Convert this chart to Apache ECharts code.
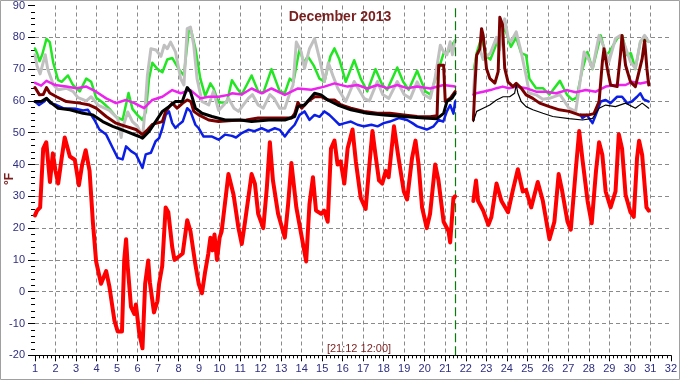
<!DOCTYPE html>
<html>
<head>
<meta charset="utf-8">
<script src="https://cdn.jsdelivr.net/npm/echarts@6/dist/echarts.min.js"></script>
<style>
html,body{margin:0;padding:0;background:#fff;}
#chart{width:680px;height:380px;}
</style>
</head>
<body>
<div id="chart"></div>
<script>
// ---- data (day of month, °F); null = gap in recording ----
const titleText = 'December 2013';
const cursorText = '[21:12 12:00]';
const unitText = '°F';
const cursorDay = 21.5;

const redDays = [1.0,1.1,1.25,1.4,1.55,1.73,1.87,2.0,2.13,2.3,2.45,2.7,2.94,3.14,3.3,3.47,3.66,3.82,3.98,4.22,4.47,4.63,4.87,5.03,5.24,5.35,5.44,5.52,5.68,5.84,5.92,6.08,6.24,6.37,6.52,6.6,6.8,6.97,7.05,7.2,7.37,7.5,7.69,7.8,8.0,8.2,8.42,8.58,8.82,8.98,9.14,9.3,9.45,9.55,9.65,9.75,9.87,10.0,10.1,10.43,10.68,10.92,11.08,11.24,11.56,11.72,11.88,12.13,12.3,12.45,12.6,12.85,13.18,13.34,13.5,13.74,13.98,14.22,14.38,14.55,14.7,14.95,15.1,15.27,15.43,15.6,15.75,15.9,16.08,16.24,16.48,16.64,16.88,17.12,17.29,17.45,17.6,17.77,17.93,18.1,18.24,18.5,18.7,18.98,19.14,19.38,19.55,19.7,19.87,20.1,20.26,20.51,20.67,20.92,21.16,21.24,21.4,21.48,21.9,22.37,22.5,22.6,22.85,23.1,23.25,23.5,23.74,24.06,24.3,24.54,24.78,24.94,25.19,25.51,25.76,26.08,26.32,26.53,26.69,26.96,27.12,27.36,27.53,27.7,27.94,28.14,28.35,28.5,28.66,28.82,29.06,29.3,29.46,29.62,29.79,30.03,30.19,30.35,30.45,30.6,30.81,30.92];
const redTemps = [24,25.5,26.5,45,47,34.5,43.5,38,34,42,48.5,42.5,41.5,33.5,40,44.5,38,22,9.5,2.5,6.5,1.5,-9,-12.5,-12.5,10,16.5,8,-4.8,-7,-4,-13,-17.8,2.5,9.8,3,-6.5,-3,2.5,8,26.5,25,14,10,11,12,22.5,19,8.5,2.5,-0.5,6.5,12,17,13,18,10,17,19,37,30.5,20,15,22,37,34,24.5,20,32.5,47,35,24.5,17,27.5,40.5,26.5,18,9.5,27.5,36,25.5,24.5,25.5,22,45,47.5,40,41,34,45,51,41,29.5,26,39,50.5,43,35,34,38,36,52,43,31.5,29,42,47.5,40,26.5,20,24.5,40,35,22,19,15.5,29.5,30,null,28.5,35,28.5,25.5,21,23.5,34,28.5,25,32,38.5,31.5,32,26.5,34.5,28.5,16.5,22,37,32,22,19.5,38,50.5,41,28.5,21.5,38,47,43,31.5,26.5,31.5,49.5,45,30.5,25,23.5,42,47.5,43,26.5,25.5];

const greenDays = [1.0,1.1,1.22,1.35,1.56,1.72,1.89,2.13,2.3,2.61,2.85,3.18,3.5,3.74,3.98,4.3,4.63,4.95,5.27,5.56,5.75,6.0,6.24,6.4,6.56,6.72,6.97,7.21,7.45,7.69,8.01,8.26,8.5,8.62,8.82,9.06,9.3,9.55,9.7,9.95,10.35,10.6,10.85,11.08,11.56,11.88,12.13,12.53,12.93,13.18,13.42,13.6,13.9,14.1,14.3,14.6,14.87,15.11,15.4,15.6,15.84,16.15,16.56,16.88,17.2,17.6,17.93,18.17,18.66,18.95,19.22,19.63,20.03,20.27,20.68,20.92,21.16,21.32,21.48,21.9,22.4,22.53,22.77,23.0,23.2,23.5,23.7,23.9,24.2,24.46,24.7,24.94,25.1,25.43,25.76,26.08,26.59,26.93,27.2,27.4,27.69,27.93,28.18,28.58,28.82,29.0,29.38,29.62,29.87,30.05,30.27,30.51,30.67,30.92];
const greenTemps = [76.5,75,72.5,74.5,79.5,78.5,72,66.5,66,68,65,63,67,66,61,59.5,57.5,55,54,62.5,57.5,55.5,54,56.5,67,72,70,69,73,73.5,70,68,82.5,82,76.5,67,61.5,65.5,64,59.5,59.5,66.5,64,62,68,63,62.5,70,63,62.5,67,66,76.5,72,74,71,67,66,74,76.5,73,66,72.8,67,63,70,65,63.5,70.5,66,63.5,69.5,63,62,70,75,75.5,77.5,79,null,70,75,80,74,73,78,80,83,77,80,75,74.4,67,64,64,62,66.3,62,60.3,61,70,75.4,70,80.6,74.4,75.4,79.6,80.6,74.4,75,70,78.6,79.6,78.6];

const grayDays = [1.0,1.1,1.25,1.5,1.62,1.9,2.13,2.53,2.85,3.1,3.5,3.74,4.07,4.63,5.03,5.2,5.27,5.52,5.75,6.0,6.24,6.35,6.48,6.65,6.9,7.14,7.3,7.45,7.61,7.85,8.1,8.26,8.42,8.58,8.74,8.9,9.14,9.47,9.7,9.95,10.2,10.43,10.7,10.92,11.4,11.6,11.88,12.13,12.45,12.65,12.93,13.18,13.42,13.58,13.74,13.98,14.14,14.38,14.63,14.87,15.11,15.3,15.52,15.76,16.15,16.56,17.04,17.3,17.69,17.95,18.25,18.66,19.0,19.3,19.63,19.95,20.27,20.5,20.76,20.92,21.08,21.24,21.35,21.48,21.9,22.37,22.45,22.53,22.7,22.85,23.0,23.2,23.5,23.65,23.9,24.06,24.2,24.46,24.7,24.94,25.1,25.43,25.76,26.08,26.59,26.8,27.03,27.36,27.55,27.77,28.0,28.18,28.5,28.7,28.98,29.3,29.55,29.75,30.03,30.27,30.51,30.72,30.92];
const grayTemps = [74.5,71,68.5,74.5,70,65,63.5,64,63,61,60,61.3,58.7,57,54.5,48.5,51.5,56.5,53.5,52,48.5,56,68,76.4,76,74,77.5,76.4,78.5,75.4,67,65,82.7,83.2,77.5,67,59.8,58.7,63,57,58.7,60.8,57.7,56.7,60.8,62,58.7,57.7,62,60.8,57.7,57.7,62.4,65,78.5,75.4,70.2,76.4,79.6,73.3,66.1,72,68,64,59.8,66.1,60.8,60,66.1,62,60.8,66.1,62,60.8,66,62,60.8,67,77.5,75.4,74.5,78.6,74.5,79,null,62,70,74.4,76,73,74,75,80,76,85.8,80,78.6,81.7,75.4,68,62.5,61.9,60.5,60.8,62,60,57.7,56.7,65,75.4,73,70.2,80.6,77.5,72.3,79.6,80.6,77.5,72.3,70.2,78.6,80.6,78.6];

const magentaDays = [1.0,1.3,1.56,1.97,2.53,3.02,3.5,3.98,4.47,4.95,5.43,5.84,6.32,6.72,7.21,7.69,8.1,8.58,9.06,9.47,9.95,10.43,10.6,11.08,11.56,12.05,12.53,13.18,13.82,14.47,15.11,15.6,16.24,16.72,17.2,17.69,18.17,18.66,19.14,19.63,20.27,20.92,21.48,21.9,22.37,22.5,22.85,23.2,23.5,23.8,24.1,24.46,24.94,25.43,25.92,26.4,26.93,27.36,27.85,28.34,28.82,29.3,29.79,30.1,30.51,30.92];
const magentaTemps = [65.7,64.8,66.3,65,64.5,64,64.5,62.9,60.8,59.3,60.3,59.3,57.7,60.3,61.3,63.4,62.4,63.4,60.8,61.3,61.3,61.9,62.4,62,63.9,62.4,63.9,61.9,63.9,63.5,64.5,65.5,64.5,65,63.9,65,64,65,64,64.5,63.9,65,64.5,null,62,62.4,62.9,63.4,64,64.5,64,64.5,64,62.9,62.9,62.4,63.4,62.7,63.4,62.9,64.5,65,65,66,65.5,66];

const blueDays = [1.0,1.2,1.45,1.56,1.75,2.05,2.37,3.02,3.34,3.58,3.9,4.14,4.47,4.79,5.03,5.27,5.44,5.68,5.92,6.24,6.4,6.65,6.88,7.05,7.21,7.37,7.53,7.69,7.85,8.0,8.2,8.42,8.58,8.82,8.98,9.22,9.63,9.95,10.27,10.6,10.8,11.08,11.4,11.7,12.05,12.37,12.69,12.93,13.18,13.42,13.66,13.9,14.14,14.38,14.63,14.87,15.11,15.35,15.6,15.84,16.1,16.4,16.72,17.04,17.4,17.7,18.0,18.3,18.74,19.14,19.4,19.63,20.1,20.43,20.68,20.9,21.08,21.24,21.4,21.48,21.9,27.6,27.69,27.9,28.18,28.34,28.58,28.82,29.06,29.38,29.62,29.87,30.1,30.35,30.51,30.67,30.92];
const blueTemps = [59.8,58.7,59.8,60.8,59.3,58.7,57.7,57.5,57,57.2,54,51,49.4,45.2,42.1,41.6,45.7,44.2,43.2,38.9,43.2,43.7,47.3,48.3,51.4,55.6,56.7,53,51.5,52.5,53.5,57.7,56.7,52.5,51.4,48.8,48.8,47.8,49.4,49,48.5,49.9,50.9,50.5,51.4,50.5,51.4,50.9,48.8,50.9,52.5,55.6,56.7,54,55.6,55,56.7,55.6,54,52.5,53,53.5,52.5,52,52.5,52,53,53.5,54.6,54,53,52,51,52,54,53.5,56.7,58.7,56,59.8,null,55.6,54.6,55.6,53,55.6,59.8,60.3,59.3,61.3,61.3,59.3,59.8,61.3,62.4,60.5,59.8];

const maroonDays = [1.0,1.22,1.4,1.56,1.72,2.05,2.53,3.18,3.66,3.98,4.47,4.95,5.43,5.92,6.24,6.5,6.72,7.21,7.37,7.69,7.93,8.2,8.42,8.6,8.74,8.98,9.47,9.95,10.6,11.3,11.88,12.85,13.5,13.66,13.74,13.82,14.0,14.3,14.63,14.95,15.27,15.6,15.92,16.4,17.04,17.69,18.3,18.98,19.63,20.27,20.6,20.68,20.92,21.0,21.24,21.48,21.9,22.37,22.45,22.53,22.69,22.77,22.85,23.01,23.17,23.42,23.58,23.66,23.79,23.9,24.06,24.3,24.46,24.7,24.94,25.27,25.6,26.08,26.56,27.04,27.53,28.0,28.25,28.5,28.66,28.74,28.9,29.06,29.38,29.54,29.62,29.79,30.03,30.27,30.6,30.72,30.83,30.92];
const maroonTemps = [64.2,61.9,62,64.2,62.5,61.3,59.8,59.3,58.7,57.7,55.1,53,52,51,49.4,51,52.6,53.5,56.7,59.3,57.7,59.3,60.3,59.8,56.7,55.6,54,53.5,53.8,54,54.6,54.6,54.6,56,57.7,59.5,57.7,59.8,61.3,61.3,60.3,60.3,58.7,57.7,56.7,56.1,56.1,55.6,55.1,55,55.3,71.2,71.2,59.8,60.8,62.9,null,54,65,74.4,76.4,82.7,80.6,70.2,67.1,65.6,69.2,86.3,84,70.2,66,64.5,65.5,64,61.9,60.8,59.3,58.2,57.2,56.7,55.6,55.6,56,59.8,72.3,76.4,70.2,65,64.5,74.4,80.6,71.2,66,64.5,73.3,79,70.2,65];

const blackDaysA = [1.0,1.3,1.56,1.8,2.13,2.7,3.34,3.82,4.3,4.79,5.44,6.08,6.24,6.56,6.88,7.21,7.53,7.85,8.18,8.42,8.58,8.82,9.14,9.63,10.27,11.0,11.56,12.4,13.18,13.66,13.82,14.14,14.63,14.95,15.27,15.76,16.4,17.2,18.01,18.98,19.95,20.6,20.92,21.08,21.32,21.48];
const blackTempsA = [59.8,59.8,60.8,59.3,57.7,57.2,56.1,55.6,53.5,52,50.4,48.8,48.3,50.4,53.5,56.7,58.2,59.8,59.8,64.2,62.9,57.7,56.1,55.1,54,54,53.5,54,54,55.1,58.2,58.7,62.4,61.9,60.3,58.7,57.2,56.1,55.6,55.1,54.6,54.4,56.1,59.8,60.8,62.4];
const blackDaysB = [22.37,22.53,22.85,23.17,23.5,23.82,24.14,24.38,24.46,24.54,24.7,24.94,25.27,25.76,26.24,27.04,27.69,28.18,28.5,28.82,29.3,29.79,30.27,30.6,30.92];
const blackTempsB = [53.5,56.7,57.7,58.7,60.3,61.3,61.3,62.4,65,62.5,59.8,58.2,57.2,56.1,55.1,54.4,54,54.5,57.7,58.7,58.2,59.3,57.7,59.3,57.7];

const xTicks = {min: 1, max: 32, step: 1};
const yTicks = {min: -20, max: 90, step: 10};

function pairs(days, temps) {
  return days.map((d, i) => [d, temps[i] === null ? '-' : temps[i]]);
}

const chart = echarts.init(document.getElementById('chart'), null, {renderer: 'canvas'});
const font = 'Arial, "Liberation Sans", sans-serif';
const labelColor = '#2e2e80';
const gridLine = {show: true, showMinLine: false, showMaxLine: false, lineStyle: {color: '#8a8a8a', type: [4, 3], width: 1}};

function lineSeries(name, days, temps, color, width, z, extra) {
  return Object.assign({
    name: name, type: 'line', data: pairs(days, temps),
    showSymbol: false, symbol: 'none', connectNulls: false, z: z,
    lineStyle: {color: color, width: width, join: 'round', cap: 'round'},
    itemStyle: {color: color}, animation: false, silent: true
  }, extra || {});
}

chart.setOption({
  animation: false,
  backgroundColor: '#ffffff',
  title: {
    text: titleText, left: 'center', top: 10, padding: 0,
    textStyle: {color: '#7a1e1e', fontSize: 14, fontWeight: 'bold', fontFamily: font}
  },
  grid: {left: 35, right: 4.3, top: 3.3, bottom: 24.7, containLabel: false},
  xAxis: {
    type: 'value', min: xTicks.min, max: xTicks.max, interval: xTicks.step,
    axisLine: {show: true, onZero: false, lineStyle: {color: '#000', width: 1}},
    axisTick: {show: true, length: 6, lineStyle: {color: '#000'}},
    minorTick: {show: true, splitNumber: 5, length: 3, lineStyle: {color: '#000'}},
    axisLabel: {color: labelColor, fontSize: 11, fontFamily: font, margin: 8},
    splitLine: gridLine
  },
  yAxis: {
    type: 'value', min: yTicks.min, max: yTicks.max, interval: yTicks.step,
    axisLine: {show: false},
    axisTick: {show: true, length: 7, lineStyle: {color: '#000'}},
    minorTick: {show: true, splitNumber: 5, length: 4, lineStyle: {color: '#000'}},
    axisLabel: {color: labelColor, fontSize: 11, fontFamily: font, margin: 10},
    splitLine: gridLine
  },
  graphic: [
    {type: 'rect', shape: {x: 0.5, y: 0.5, width: 679, height: 379}, style: {fill: null, stroke: '#a0a0a0', lineWidth: 1}, silent: true, z: 100},
    {type: 'text', x: 10, y: 179, rotation: Math.PI / 2, style: {text: unitText, fill: '#7a1e1e', font: 'bold 12px Arial, "Liberation Sans", sans-serif', align: 'center', verticalAlign: 'middle'}, z: 100},
    {type: 'text', x: 359, y: 349, style: {text: cursorText, fill: '#7a1e1e', font: '11px Arial, "Liberation Sans", sans-serif', align: 'center', verticalAlign: 'middle'}, z: 100}
  ],
  series: [
    lineSeries('green', greenDays, greenTemps, '#22e622', 2.5, 2),
    lineSeries('gray', grayDays, grayTemps, '#c0c0c0', 3, 3),
    lineSeries('magenta', magentaDays, magentaTemps, '#ee22ee', 2.5, 4),
    lineSeries('blue', blueDays, blueTemps, '#0a1ee6', 2.5, 5),
    lineSeries('maroon', maroonDays, maroonTemps, '#7a0000', 3, 6),
    lineSeries('blackA', blackDaysA, blackTempsA, '#000000', 3, 7),
    lineSeries('blackB', blackDaysB, blackTempsB, '#000000', 1.2, 7),
    lineSeries('red', redDays, redTemps, '#ff0000', 4, 8, {
      markLine: {
        silent: true, symbol: 'none', animation: false,
        label: {show: false},
        lineStyle: {color: '#0a7a0a', type: [9, 4], width: 1.2},
        data: [{xAxis: cursorDay}]
      }
    })
  ]
});
</script>
</body>
</html>
